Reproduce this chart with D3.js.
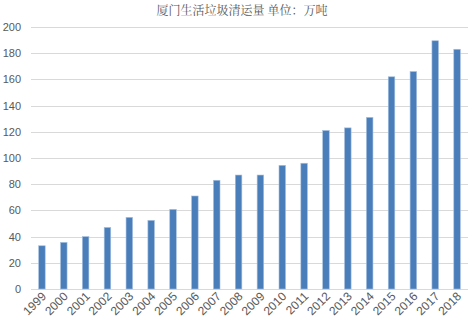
<!DOCTYPE html>
<html>
<head>
<meta charset="utf-8">
<script src="https://cdn.jsdelivr.net/npm/d3@7"></script>
<style>
body { margin:0; background:#fff; }
text { font-family: "Liberation Sans", Calibri, sans-serif; fill:#595959; }
</style>
</head>
<body>
<div id="chart"></div>
<script>
var width = 472;
var height = 328;
var years = ["1999","2000","2001","2002","2003","2004","2005","2006","2007","2008",
             "2009","2010","2011","2012","2013","2014","2015","2016","2017","2018"];
var amounts = [33,35.6,40,47,54.7,52.4,60.8,71,83,87,87,94.4,96,121,123,131,162,166,189.5,183];
var yTicks = [0,20,40,60,80,100,120,140,160,180,200];
var title = "厦门生活垃圾清运量 单位：万吨";

var margin = {left:31, right:4, top:27, bottom:39};

var svg = d3.select("#chart")
            .append("svg")
            .attr("width",width)
            .attr("height",height);

var xScale = d3.scaleBand()
               .domain(years)
               .range([margin.left, width-margin.right])
               .paddingInner(0.7)
               .paddingOuter(0.35);
var yScale = d3.scaleLinear()
               .domain([0,200])
               .range([height-margin.bottom, margin.top]);

// gridlines
svg.append("g")
   .selectAll("line")
   .data(yTicks)
   .enter()
   .append("line")
   .attr("x1",margin.left)
   .attr("x2",width-margin.right)
   .attr("y1",function(d){ return Math.round(yScale(d))+0.5; })
   .attr("y2",function(d){ return Math.round(yScale(d))+0.5; })
   .attr("stroke","#d9d9d9")
   .attr("stroke-width",1);

// y labels
svg.append("g")
   .selectAll("text")
   .data(yTicks)
   .enter()
   .append("text")
   .attr("x",21)
   .attr("y",function(d){ return yScale(d)+4; })
   .attr("text-anchor","end")
   .attr("font-size","11px")
   .text(function(d){ return d; });

// bars
svg.append("g")
   .selectAll("rect")
   .data(amounts)
   .enter()
   .append("rect")
   .attr("x",function(d,i){ return xScale(years[i]); })
   .attr("y",function(d){ return yScale(d); })
   .attr("width",xScale.bandwidth())
   .attr("height",function(d){ return yScale(0)-yScale(d); })
   .attr("fill","#4a7ebb")
   .attr("stroke","#a7c0de")
   .attr("stroke-width",0.6);

// x labels
svg.append("g")
   .selectAll("text")
   .data(years)
   .enter()
   .append("text")
   .attr("transform",function(d){
     return "translate("+(xScale(d)+xScale.bandwidth()/2+5)+","+(height-margin.bottom+8)+") rotate(-45)";
   })
   .attr("text-anchor","end")
   .attr("font-size","12px")
   .text(function(d){ return d; });

svg.append("text")
   .attr("x",242)
   .attr("y",15)
   .attr("text-anchor","middle")
   .attr("font-size","12px")
   .style("font-family","'Noto Serif CJK SC','Noto Sans CJK SC',serif")
   .text(title);
</script>
</body>
</html>
